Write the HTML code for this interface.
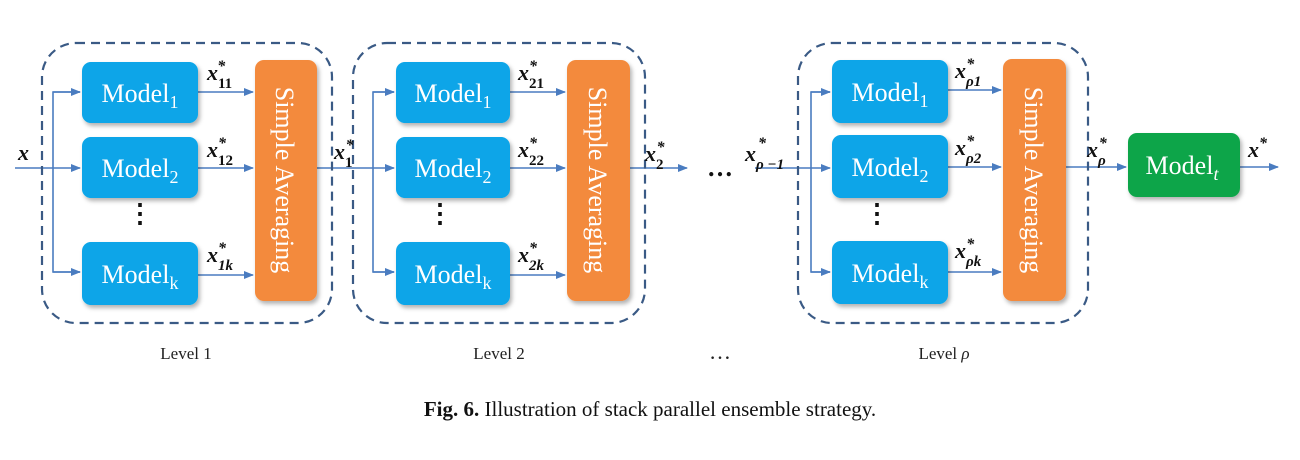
<!DOCTYPE html>
<html><head><style>body{margin:0;background:#fff}svg{display:block}</style></head><body>
<svg width="1300" height="460" viewBox="0 0 1300 460" xmlns="http://www.w3.org/2000/svg" font-family="Liberation Serif, serif">
<defs>
<marker id="a" markerWidth="10" markerHeight="10" refX="9" refY="5" orient="auto" markerUnits="userSpaceOnUse"><path d="M0,1 L10,5 L0,9 z" fill="#4a7cc0"/></marker>
<filter id="s" x="-10%" y="-10%" width="130%" height="130%"><feDropShadow dx="2" dy="3" stdDeviation="2" flood-color="#000" flood-opacity="0.3"/></filter>
</defs>
<g stroke="#4a7cc0" stroke-width="1.6" fill="none">
<line x1="15" y1="168" x2="80" y2="168" marker-end="url(#a)"/>
<polyline points="80,92 53,92 53,272 80,272"/>
<line x1="53" y1="92" x2="80" y2="92" marker-end="url(#a)"/><line x1="53" y1="272" x2="80" y2="272" marker-end="url(#a)"/>
<line x1="198" y1="92" x2="253" y2="92" marker-end="url(#a)"/><line x1="198" y1="168" x2="253" y2="168" marker-end="url(#a)"/><line x1="198" y1="275" x2="253" y2="275" marker-end="url(#a)"/>
<line x1="317" y1="168" x2="394" y2="168" marker-end="url(#a)"/>
<polyline points="394,92 373,92 373,272 394,272"/>
<line x1="373" y1="92" x2="394" y2="92" marker-end="url(#a)"/><line x1="373" y1="272" x2="394" y2="272" marker-end="url(#a)"/>
<line x1="510" y1="92" x2="565" y2="92" marker-end="url(#a)"/><line x1="510" y1="168" x2="565" y2="168" marker-end="url(#a)"/><line x1="510" y1="275" x2="565" y2="275" marker-end="url(#a)"/>
<line x1="630" y1="168" x2="687" y2="168" marker-end="url(#a)"/>
<line x1="755" y1="168" x2="830" y2="168" marker-end="url(#a)"/>
<polyline points="830,92 811,92 811,272 830,272"/>
<line x1="811" y1="92" x2="830" y2="92" marker-end="url(#a)"/><line x1="811" y1="272" x2="830" y2="272" marker-end="url(#a)"/>
<line x1="948" y1="90" x2="1001" y2="90" marker-end="url(#a)"/><line x1="948" y1="167" x2="1001" y2="167" marker-end="url(#a)"/><line x1="948" y1="272" x2="1001" y2="272" marker-end="url(#a)"/>
<line x1="1066" y1="167" x2="1126" y2="167" marker-end="url(#a)"/>
<line x1="1236" y1="167" x2="1278" y2="167" marker-end="url(#a)"/>
</g>
<g stroke="#3a5a85" stroke-width="2.2" stroke-dasharray="9,6" fill="none">
<rect x="42" y="43" width="290" height="280" rx="34"/>
<rect x="353" y="43" width="292" height="280" rx="34"/>
<rect x="798" y="43" width="290" height="280" rx="34"/>
</g>
<g fill="#07a5e8" filter="url(#s)">
<rect x="82" y="62" width="116" height="61" rx="9"/><rect x="82" y="137" width="116" height="61" rx="9"/><rect x="82" y="242" width="116" height="63" rx="9"/>
<rect x="396" y="62" width="114" height="61" rx="9"/><rect x="396" y="137" width="114" height="61" rx="9"/><rect x="396" y="242" width="114" height="63" rx="9"/>
<rect x="832" y="60" width="116" height="63" rx="9"/><rect x="832" y="135" width="116" height="63" rx="9"/><rect x="832" y="241" width="116" height="63" rx="9"/>
</g>
<g fill="#f38a3c" filter="url(#s)">
<rect x="255" y="60" width="62" height="241" rx="9"/><rect x="567" y="60" width="63" height="241" rx="9"/><rect x="1003" y="59" width="63" height="242" rx="9"/>
</g>
<rect x="1128" y="133" width="112" height="64" rx="9" fill="#0fa54a" filter="url(#s)"/>
<g fill="#fff" font-size="26" text-anchor="middle">
<text x="140" y="102">Model<tspan font-size="18" dy="6">1</tspan></text>
<text x="140" y="177">Model<tspan font-size="18" dy="6">2</tspan></text>
<text x="140" y="283">Model<tspan font-size="18" dy="6">k</tspan></text>
<text x="453" y="102">Model<tspan font-size="18" dy="6">1</tspan></text>
<text x="453" y="177">Model<tspan font-size="18" dy="6">2</tspan></text>
<text x="453" y="283">Model<tspan font-size="18" dy="6">k</tspan></text>
<text x="890" y="101">Model<tspan font-size="18" dy="6">1</tspan></text>
<text x="890" y="176">Model<tspan font-size="18" dy="6">2</tspan></text>
<text x="890" y="282">Model<tspan font-size="18" dy="6">k</tspan></text>
<text x="1182" y="174">Model<tspan font-size="18" dy="6" font-style="italic">t</tspan></text>
<text transform="translate(276,180) rotate(90)">Simple Averaging</text>
<text transform="translate(589,180) rotate(90)">Simple Averaging</text>
<text transform="translate(1025,180) rotate(90)">Simple Averaging</text>
</g>
<g fill="#111" font-size="22" font-style="italic" font-weight="bold">
<text x="18" y="160">x</text>
<text x="207" y="80">x<tspan font-size="15" dy="8" font-style="normal">11</tspan><tspan font-size="16" dx="-15" dy="-17">*</tspan></text>
<text x="207" y="157">x<tspan font-size="15" dy="8" font-style="normal">12</tspan><tspan font-size="16" dx="-15" dy="-17">*</tspan></text>
<text x="207" y="262">x<tspan font-size="15" dy="8">1k</tspan><tspan font-size="16" dx="-15" dy="-17">*</tspan></text>
<text x="334" y="159">x<tspan font-size="15" dy="8" font-style="normal">1</tspan><tspan font-size="16" dx="-7" dy="-17">*</tspan></text>
<text x="518" y="80">x<tspan font-size="15" dy="8" font-style="normal">21</tspan><tspan font-size="16" dx="-15" dy="-17">*</tspan></text>
<text x="518" y="157">x<tspan font-size="15" dy="8" font-style="normal">22</tspan><tspan font-size="16" dx="-15" dy="-17">*</tspan></text>
<text x="518" y="262">x<tspan font-size="15" dy="8">2k</tspan><tspan font-size="16" dx="-15" dy="-17">*</tspan></text>
<text x="645" y="161">x<tspan font-size="15" dy="8" font-style="normal">2</tspan><tspan font-size="16" dx="-7" dy="-17">*</tspan></text>
<text x="745" y="161">x<tspan font-size="15" dy="8">ρ −1</tspan></text><text x="758" y="148" font-size="16">*</text>
<text x="955" y="78">x<tspan font-size="15" dy="8">ρ1</tspan><tspan font-size="16" dx="-15" dy="-17">*</tspan></text>
<text x="955" y="155">x<tspan font-size="15" dy="8">ρ2</tspan><tspan font-size="16" dx="-15" dy="-17">*</tspan></text>
<text x="955" y="258">x<tspan font-size="15" dy="8">ρk</tspan><tspan font-size="16" dx="-15" dy="-17">*</tspan></text>
<text x="1087" y="157">x<tspan font-size="15" dy="8">ρ</tspan><tspan font-size="16" dx="-7" dy="-17">*</tspan></text>
<text x="1248" y="157">x<tspan font-size="16" dy="-9">*</tspan></text>
</g>
<g fill="#111" font-size="26" font-weight="bold" text-anchor="middle">
<text x="140" y="222">⋮</text><text x="440" y="222">⋮</text><text x="877" y="222">⋮</text>
<text x="720" y="176">…</text>
</g>
<g fill="#222" font-size="17" text-anchor="middle">
<text x="186" y="359">Level 1</text><text x="499" y="359">Level 2</text><text x="944" y="359">Level <tspan font-style="italic">ρ</tspan></text>
<text x="720" y="359" font-size="22">…</text>
</g>
<text x="650" y="416" font-size="21" text-anchor="middle" fill="#111"><tspan font-weight="bold">Fig. 6.</tspan>  Illustration of stack parallel ensemble strategy.</text>
</svg>
</body></html>
